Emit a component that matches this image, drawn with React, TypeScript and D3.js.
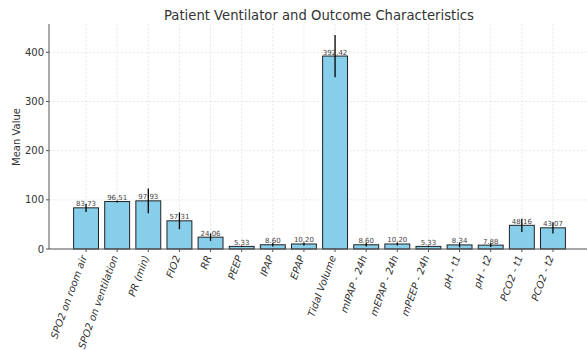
import React from "react";
import * as d3 from "d3";

const categories = [
  "SPO2 on room air", "SPO2 on ventilation", "PR (min)", "FIO2", "RR", "PEEP", "IPAP", "EPAP",
  "Tidal Volume", "mIPAP - 24h", "mEPAP - 24h", "mPEEP - 24h", "pH - t1", "pH - t2", "PCO2 - t1", "PCO2 - t2",
];
const means = [83.73, 96.51, 97.93, 57.31, 24.06, 5.33, 8.6, 10.2, 392.42, 8.6, 10.2, 5.33, 8.34, 7.88, 48.16, 43.07];
const errors = [8.5, 2, 25, 17, 7.5, 1.5, 3.5, 3, 43, 3.5, 3, 1.5, 5, 4, 13.5, 11.5];
const yTicks = [0, 100, 200, 300, 400];

const W = 587, H = 350;
const left = 49, right = 590, top = 24, bottom = 249;
const font = "DejaVu Sans, sans-serif";

export default function App() {
  const n = categories.length;
  const x = d3.scaleLinear().domain([-1.19, n - 1 + 1.19]).range([left, right]);
  const y = d3.scaleLinear().domain([0, 457.6]).range([bottom, top]);
  const bw = (x(1) - x(0)) * 0.8;
  return (
    <svg width={W} height={H} style={{ position: "absolute", left: 0, top: 0, background: "#fff" }} fontFamily={font}>
      <text x={319} y={20} textAnchor="middle" fontSize={13.2} fill="#333">Patient Ventilator and Outcome Characteristics</text>
      {yTicks.map((t) => (
        <line key={"gy" + t} x1={left} x2={right} y1={y(t)} y2={y(t)} stroke="#ddd" strokeWidth={0.6} strokeDasharray="2.5,1.5" />
      ))}
      {categories.map((c, i) => (
        <line key={"gx" + i} x1={x(i)} x2={x(i)} y1={top} y2={bottom} stroke="#ddd" strokeWidth={0.6} strokeDasharray="2.5,1.5" />
      ))}
      {means.map((v, i) => (
        <rect key={"b" + i} x={x(i) - bw / 2} y={y(v)} width={bw} height={y(0) - y(v)} fill="#87CEEB" stroke="#222" strokeWidth={1} />
      ))}
      {means.map((v, i) => (
        <line key={"e" + i} x1={x(i)} x2={x(i)} y1={y(v + errors[i])} y2={y(Math.max(0, v - errors[i]))} stroke="#000" strokeWidth={1.3} />
      ))}
      {means.map((v, i) => (
        <text key={"v" + i} x={x(i)} y={y(v) - 1.5} textAnchor="middle" fontSize={7} fill="#444">{v.toFixed(2)}</text>
      ))}
      <line x1={left} x2={left} y1={top} y2={bottom} stroke="#555" strokeWidth={1} />
      <line x1={left} x2={right} y1={bottom} y2={bottom} stroke="#555" strokeWidth={1} />
      {yTicks.map((t) => (
        <g key={"yt" + t}>
          <line x1={left - 3} x2={left} y1={y(t)} y2={y(t)} stroke="#555" />
          <text x={left - 5} y={y(t) + 3.5} textAnchor="end" fontSize={10} fill="#333">{t}</text>
        </g>
      ))}
      {categories.map((c, i) => (
        <g key={"xt" + i}>
          <line x1={x(i)} x2={x(i)} y1={bottom} y2={bottom + 3} stroke="#555" />
          <text transform={`translate(${x(i) + 1},${bottom + 8}) rotate(-70)`} textAnchor="end" fontSize={10} fontStyle="italic" fill="#333">{c}</text>
        </g>
      ))}
      <text transform={`translate(20,137) rotate(-90)`} textAnchor="middle" fontSize={10} fill="#333">Mean Value</text>
    </svg>
  );
}
